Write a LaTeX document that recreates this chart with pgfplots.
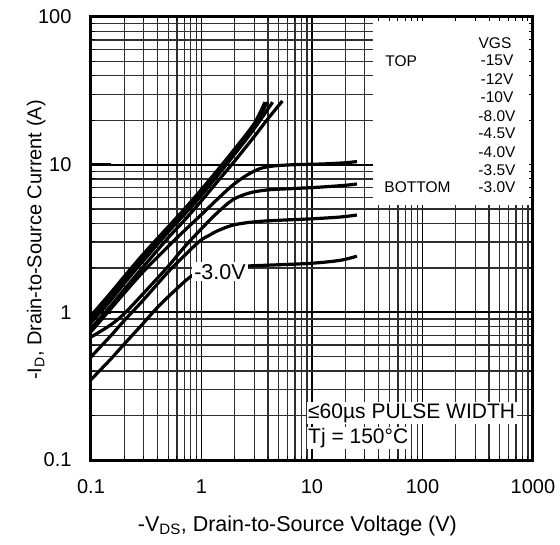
\documentclass[border=0pt]{standalone}
\usepackage{fontspec}
\setmainfont{Liberation Sans}
\usepackage{pgfplots}
\pgfplotsset{compat=1.18}
\newcommand{\fs}{\fontsize{20}{24}\selectfont}
\newcommand{\fb}{\fontsize{21}{25}\selectfont}
\newcommand{\fl}{\fontsize{15.5}{18}\selectfont}
\tikzset{curve/.style={black, solid, line width=3.2pt, smooth}}

\begin{document}
\begin{tikzpicture}
% grid, curves and texts
\begin{axis}[
  at={(0,0)}, anchor=south west,
  scale only axis, width=442pt, height=443pt,
  xmode=log, ymode=log,
  xmin=0.1, xmax=1000, ymin=0.1, ymax=100,
  xtick={0.1,1,10,100,1000}, xticklabels={0.1,1,10,100,1000},
  ytick={0.1,1,10,100}, yticklabels={0.1,1,10,100},
  grid=both,
  major grid style={black, line width=1.7pt},
  minor grid style={black!82, line width=1.3pt},
  major tick length=0pt, minor tick length=0pt,
  axis line style={draw=none},
  tick label style={font=\fs},
  xticklabel style={anchor=center, yshift=-27pt},
  yticklabel style={anchor=east, xshift=-16pt},
  xlabel={-V\textsubscript{DS}, Drain-to-Source Voltage (V)},
  ylabel={-I\textsubscript{D}, Drain-to-Source Current (A)},
  xlabel style={font=\fontsize{21.5}{25}\selectfont, at={(axis description cs:0.467,-0.149)}, anchor=center},
  ylabel style={font=\fs, at={(axis description cs:-0.124,0.4966)}, anchor=center},
]

% legend panel hides the grid
\fill[white] (rel axis cs:0.638,0.5756) rectangle (rel axis cs:1,1);

% VGS = -15V
\addplot[curve] coordinates {(0.1,0.95) (0.15,1.35) (0.2,1.75) (0.3,2.5) (0.5,3.8) (0.7,5.0) (1,6.8) (1.5,9.8) (2,12.8) (3,19) (3.75,26.5)};
% -12V
\addplot[curve] coordinates {(0.1,0.9) (0.15,1.28) (0.2,1.66) (0.3,2.4) (0.5,3.65) (0.7,4.8) (1,6.5) (1.5,9.4) (2,12.3) (3,18.3) (3.95,26.5)};
% -10V
\addplot[curve] coordinates {(0.1,0.85) (0.15,1.2) (0.2,1.57) (0.3,2.25) (0.5,3.5) (0.7,4.6) (1,6.2) (1.5,9) (2,11.8) (3,17.5) (4.4,26.5)};
% -8.0V
\addplot[curve] coordinates {(0.1,0.78) (0.15,1.1) (0.2,1.43) (0.3,2.05) (0.5,3.2) (0.7,4.2) (1,5.7) (1.5,8.2) (2,10.6) (3,15.5) (4,20.5) (5.4,27)};
% -4.5V
\addplot[curve] coordinates {(0.1,0.74) (0.15,1.05) (0.2,1.35) (0.3,1.9) (0.5,2.8) (0.68,3.5) (0.97,4.5) (1.38,5.8) (1.93,7.3) (2.58,8.5) (3.38,9.4) (4.5,9.8) (7,10) (12,10.1) (20,10.3) (25.5,10.5)};
% -4.0V
\addplot[curve] coordinates {(0.1,0.68) (0.15,0.82) (0.2,0.98) (0.3,1.35) (0.5,2.05) (0.68,2.7) (0.97,3.6) (1.38,4.7) (1.93,5.8) (2.75,6.45) (4,6.75) (7,6.9) (12,7.05) (20,7.25) (25.5,7.4)};
% -3.5V
\addplot[curve] coordinates {(0.1,0.5) (0.15,0.69) (0.2,0.88) (0.3,1.22) (0.49,1.85) (0.68,2.37) (0.97,3.05) (1.2,3.35) (1.38,3.55) (1.93,3.9) (3,4.1) (5,4.2) (10,4.3) (18,4.42) (25.5,4.56)};
% -3.0V
\addplot[curve] coordinates {(0.1,0.35) (0.15,0.48) (0.2,0.61) (0.3,0.85) (0.4,1.08) (0.6,1.45) (0.84,1.79) (1.2,1.95) (1.8,2.03) (2.6,2.06) (5,2.1) (10,2.15) (18,2.25) (25.5,2.4)};

\node[font=\fontsize{21.5}{25}\selectfont, fill=white, inner sep=2pt] at (axis cs:1.47,1.88) {-3.0V};

\node[font=\fl] at (rel axis cs:0.914,0.942) {VGS};
\node[font=\fl, anchor=west] at (rel axis cs:0.658,0.9014) {TOP};
\node[font=\fl, anchor=west] at (rel axis cs:0.656,0.6155) {BOTTOM};
\node[font=\fl] at (rel axis cs:0.9186,0.9014) {-15V};
\node[font=\fl] at (rel axis cs:0.9186,0.8600) {-12V};
\node[font=\fl] at (rel axis cs:0.9186,0.8187) {-10V};
\node[font=\fl] at (rel axis cs:0.9186,0.7772) {-8.0V};
\node[font=\fl] at (rel axis cs:0.9186,0.7381) {-4.5V};
\node[font=\fl] at (rel axis cs:0.9186,0.6959) {-4.0V};
\node[font=\fl] at (rel axis cs:0.9186,0.6546) {-3.5V};
\node[font=\fl] at (rel axis cs:0.9186,0.6155) {-3.0V};

\node[font=\fb, fill=white, inner sep=1.5pt, anchor=base west] at (rel axis cs:0.4876,0.0941) {≤60µs PULSE WIDTH};
\node[font=\fb, fill=white, inner sep=1.5pt, anchor=base west] at (rel axis cs:0.4876,0.0377) {Tj = 150°C};
\end{axis}

% frame with small ticks on all sides, drawn over the white panels
\begin{axis}[
  at={(0,0)}, anchor=south west,
  scale only axis, width=442pt, height=443pt,
  xmode=log, ymode=log,
  xmin=0.1, xmax=1000, ymin=0.1, ymax=100,
  xtick={0.1,1,10,100,1000}, ytick={0.1,1,10,100},
  xticklabels={}, yticklabels={},
  tick align=inside, tick pos=both,
  major tick length=4pt, minor tick length=4pt,
  tick style={black, line width=1pt},
  axis line style={line width=3pt},
]
\addplot[draw=none] coordinates {(1,1) (10,10)};
\end{axis}

% long major ticks on the left edge
\begin{axis}[
  at={(0,0)}, anchor=south west,
  scale only axis, width=442pt, height=443pt,
  xmode=log, ymode=log,
  xmin=0.1, xmax=1000, ymin=0.1, ymax=100,
  axis line style={draw=none},
  xtick=\empty, ytick={1,10,100}, yticklabels={,,},
  xminorticks=false, yminorticks=false,
  ytick pos=left, tick align=inside,
  major tick length=20pt,
  ytick style={black, line width=2.5pt},
]
\addplot[draw=none] coordinates {(1,1) (10,10)};
\end{axis}
\pgfresetboundingbox
\path[use as bounding box] (-91pt,-84pt) rectangle (469pt,460pt);
\end{tikzpicture}
\end{document}
